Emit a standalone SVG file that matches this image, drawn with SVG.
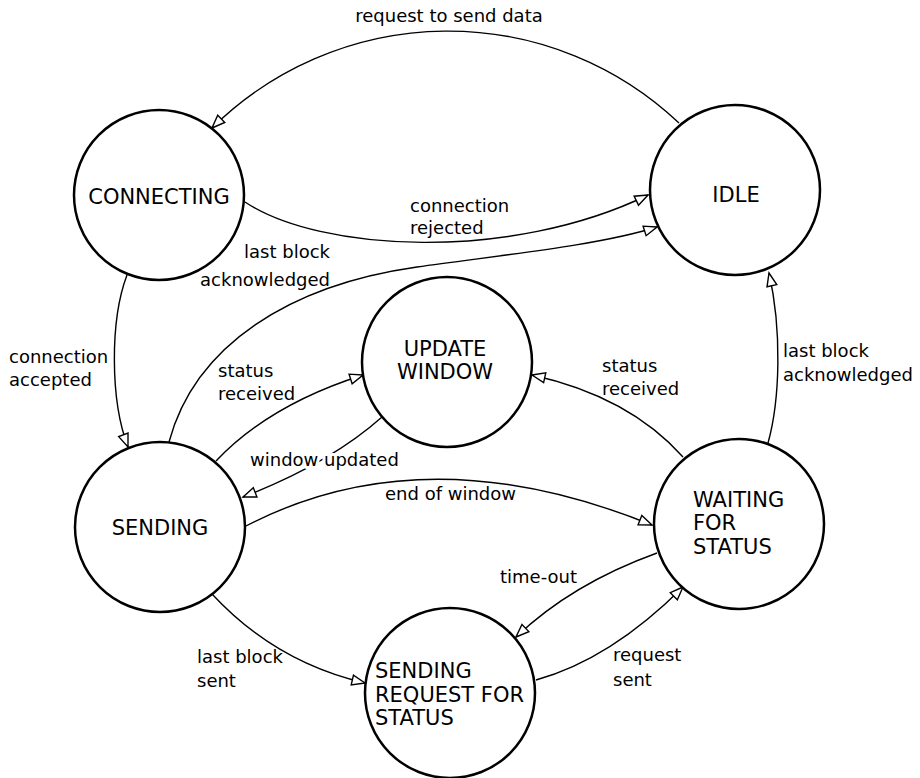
<svg xmlns="http://www.w3.org/2000/svg" width="920" height="778" viewBox="0 0 920 778">
<style>
.node{fill:#fff;stroke:#000;stroke-width:2.5}
.edge{fill:none;stroke:#000;stroke-width:1.4}
.nl{font-family:"DejaVu Sans",sans-serif;font-size:21px;fill:#000}
.el{font-family:"DejaVu Sans",sans-serif;font-size:18px;fill:#000}
.halo{stroke:#fff;stroke-width:6;paint-order:stroke;stroke-linejoin:round}
</style>
<defs>
<marker id="arr" markerWidth="18" markerHeight="14" viewBox="-15 -7 18 14" refX="0" refY="0" orient="auto" markerUnits="userSpaceOnUse" overflow="visible">
<path d="M0,0 L-13,-5 L-13,5 Z" fill="#fff" stroke="#000" stroke-width="1.4"/>
</marker>
</defs>
<rect width="920" height="778" fill="#fff"/>
<g id="connectors">
<path class="edge" marker-end="url(#arr)" d="M679,123 A336,336 0 0 0 212,128"/>
<path class="edge" marker-end="url(#arr)" d="M245,202 C320,252 510,262 648,195"/>
<path class="edge" marker-end="url(#arr)" d="M169,442 C195,345 290,285 417,267 C510,254 600,245 657,227"/>
<path class="edge" marker-end="url(#arr)" d="M127,275 C110,320 110,400 128,447"/>
<path class="edge" marker-end="url(#arr)" d="M216,461 C250,425 300,395 363,375"/>
<path class="edge" marker-end="url(#arr)" d="M382,417 C345,450 300,475 243,497"/>
<path class="edge" marker-end="url(#arr)" d="M246,526 Q425,433 652,525"/>
<path class="edge" marker-end="url(#arr)" d="M683,457 C650,420 600,390 532,375"/>
<path class="edge" marker-end="url(#arr)" d="M768,443 C780,400 782,330 769,273"/>
<path class="edge" marker-end="url(#arr)" d="M657,553 C610,570 560,595 516,637"/>
<path class="edge" marker-end="url(#arr)" d="M536,680 C590,665 640,630 683,587"/>
<path class="edge" marker-end="url(#arr)" d="M212,594 C250,635 300,668 365,683"/>
<text class="el" x="449" y="22" text-anchor="middle">request to send data</text>
<text class="el" x="410" y="212">connection</text>
<text class="el" x="410" y="234">rejected</text>
<text class="el" x="330" y="258" text-anchor="end">last block</text>
<text class="el" x="330" y="286" text-anchor="end">acknowledged</text>
<text class="el" x="9" y="363">connection</text>
<text class="el" x="9" y="386">accepted</text>
<text class="el" x="218" y="377">status</text>
<text class="el" x="218" y="400">received</text>
<text class="el halo" x="250" y="466">window updated</text>
<text class="el" x="385" y="500">end of window</text>
<text class="el" x="602" y="372">status</text>
<text class="el" x="602" y="395">received</text>
<text class="el" x="783" y="357">last block</text>
<text class="el" x="783" y="381">acknowledged</text>
<text class="el" x="500" y="583">time-out</text>
<text class="el" x="613" y="661">request</text>
<text class="el" x="613" y="686">sent</text>
<text class="el" x="197" y="663">last block</text>
<text class="el" x="197" y="687">sent</text>
</g>
<g id="connecting">
<circle class="node" cx="159" cy="195" r="85"/>
<text class="nl" x="159" y="204" text-anchor="middle">CONNECTING</text>
</g>
<g id="idle">
<circle class="node" cx="735" cy="190" r="85"/>
<text class="nl" x="736" y="202" text-anchor="middle">IDLE</text>
</g>
<g id="update-window">
<circle class="node" cx="447" cy="362" r="85"/>
<text class="nl" x="445" y="356" text-anchor="middle">UPDATE</text>
<text class="nl" x="445" y="379" text-anchor="middle">WINDOW</text>
</g>
<g id="sending">
<circle class="node" cx="160" cy="527" r="85"/>
<text class="nl" x="160" y="535" text-anchor="middle">SENDING</text>
</g>
<g id="waiting-for-status">
<circle class="node" cx="739" cy="524" r="85"/>
<text class="nl" x="693" y="507">WAITING</text>
<text class="nl" x="693" y="530">FOR</text>
<text class="nl" x="693" y="554">STATUS</text>
</g>
<g id="sending-request-for-status">
<circle class="node" cx="450" cy="693" r="85"/>
<text class="nl" x="375" y="678">SENDING</text>
<text class="nl" x="375" y="702">REQUEST FOR</text>
<text class="nl" x="375" y="725">STATUS</text>
</g>
</svg>
